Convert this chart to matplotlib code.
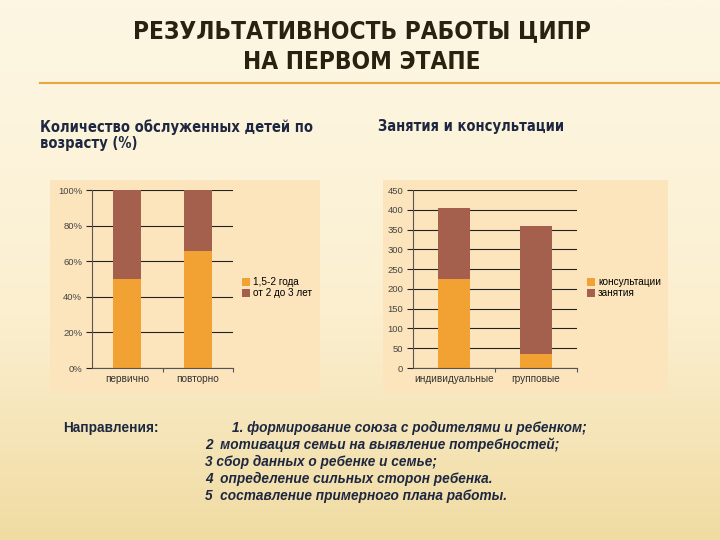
import numpy as np
import matplotlib.pyplot as plt
from matplotlib.patches import Rectangle
from matplotlib.colors import LinearSegmentedColormap

# Chart 1: children served by age (%)
age_categories = ['первично', 'повторно']
age_young = [50, 66]
age_old = [50, 34]
age_labels = ['1,5-2 года', 'от 2 до 3 лет']
age_ticks = [0, 20, 40, 60, 80, 100]

# Chart 2: lessons and consultations
work_categories = ['индивидуальные', 'групповые']
work_consult = [225, 35]
work_lessons = [180, 325]
work_labels = ['консультации', 'занятия']
work_ticks = list(range(0, 451, 50))

directions = [
    '1. формирование союза с родителями и ребенком;',
    '2  мотивация семьи на выявление потребностей;',
    '3 сбор данных о ребенке и семье;',
    '4  определение сильных сторон ребенка.',
    '5  составление примерного плана работы.',
]

ORANGE = '#F1A232'
BROWN = '#A4604C'
PANEL = '#FCE5BC'
NAVY = '#1E2740'
W, H = 720, 540

fig = plt.figure(figsize=(7.2, 5.4), dpi=100)


def fx(px): return px / W


def fy(py): return 1 - py / H


# background gradient
bg = fig.add_axes([0, 0, 1, 1], zorder=-10)
cmap = LinearSegmentedColormap.from_list('bg', ['#FDF6E2', '#FBEFCF', '#F0DBA2'])
grad = np.linspace(0, 1, 256).reshape(-1, 1) ** 1.3
bg.imshow(grad, aspect='auto', cmap=cmap, extent=[0, 1, 0, 1], origin='upper')
bg.set_xlim(0, 1)
bg.set_ylim(0, 1)
bg.axis('off')

# chart panels
for x0, x1 in [(50, 320), (383, 668)]:
    fig.patches.append(Rectangle((fx(x0), fy(393)), fx(x1 - x0), (393 - 180) / H,
                                 transform=fig.transFigure, facecolor=PANEL,
                                 edgecolor='none', zorder=-5))

# title and rule
cond = dict(family='DejaVu Sans', stretch='condensed', fontweight='bold')
fig.text(fx(362), fy(31), 'РЕЗУЛЬТАТИВНОСТЬ РАБОТЫ ЦИПР', ha='center', va='center',
         fontsize=17.5, color='#2B2110', **cond)
fig.text(fx(362), fy(62), 'НА ПЕРВОМ ЭТАПЕ', ha='center', va='center',
         fontsize=17.5, color='#2B2110', **cond)
fig.add_artist(plt.Line2D([fx(40), 1], [fy(83), fy(83)], color='#E6A83C', lw=1.5,
                          transform=fig.transFigure))

fig.text(fx(40), fy(127), 'Количество обслуженных детей по', ha='left', va='center',
         fontsize=10.5, color=NAVY, **cond)
fig.text(fx(40), fy(144), 'возрасту (%)', ha='left', va='center',
         fontsize=10.5, color=NAVY, **cond)
fig.text(fx(378), fy(127), 'Занятия и консультации', ha='left', va='center',
         fontsize=10.5, color=NAVY, **cond)


def style_axes(ax, ticks, ymax, ticklabels):
    ax.set_facecolor('none')
    ax.set_ylim(0, ymax)
    ax.set_xlim(-0.5, 1.5)
    ax.set_yticks(ticks)
    ax.set_yticklabels(ticklabels, fontsize=6.8, color='#444444', family='Liberation Sans')
    ax.yaxis.grid(True, color='#222222', lw=0.8)
    ax.set_axisbelow(True)
    for s in ['top', 'right']:
        ax.spines[s].set_visible(False)
    for s in ['left', 'bottom']:
        ax.spines[s].set_color('#555555')
        ax.spines[s].set_linewidth(0.8)
    ax.tick_params(axis='y', direction='out', length=4, width=0.8, color='#222222', pad=3)
    ax.set_xticks([0.5, 1.5], minor=True)
    ax.tick_params(axis='x', which='minor', direction='out', length=3, width=0.8, color='#555555')
    ax.tick_params(axis='x', which='major', length=0, pad=4)


legend_kw = dict(loc='center left', bbox_to_anchor=(1.03, 0.45), frameon=False,
                 prop={'family': 'Liberation Sans', 'size': 7.2}, handlelength=0.8,
                 handleheight=0.9, handletextpad=0.3, labelspacing=0.1, borderpad=0)

# chart 1
ax1 = fig.add_axes([fx(92), fy(368), fx(233 - 92), (368 - 190) / H])
x = np.arange(len(age_categories))
ax1.bar(x, age_young, width=0.4, color=ORANGE, label=age_labels[0])
ax1.bar(x, age_old, width=0.4, bottom=age_young, color=BROWN, label=age_labels[1])
style_axes(ax1, age_ticks, 100, [f'{t}%' for t in age_ticks])
ax1.set_xticks(x)
ax1.set_xticklabels(age_categories, fontsize=7.2, color='#333333', family='Liberation Sans')
ax1.legend(**legend_kw)

# chart 2
ax2 = fig.add_axes([fx(413), fy(368), fx(577 - 413), (368 - 190) / H])
x = np.arange(len(work_categories))
ax2.bar(x, work_consult, width=0.4, color=ORANGE, label=work_labels[0])
ax2.bar(x, work_lessons, width=0.4, bottom=work_consult, color=BROWN, label=work_labels[1])
style_axes(ax2, work_ticks, 450, [str(t) for t in work_ticks])
ax2.set_xticks(x)
ax2.set_xticklabels(work_categories, fontsize=7.2, color='#333333', family='Liberation Sans')
ax2.legend(**legend_kw)

# directions
fig.text(fx(63), fy(428), 'Направления:', ha='left', va='center', fontsize=9.8,
         fontweight='bold', color=NAVY, family='Liberation Sans')
for i, line in enumerate(directions):
    x0 = 232 if i == 0 else 205
    fig.text(fx(x0), fy(428 + 17 * i), line, ha='left', va='center', fontsize=9.8,
             fontweight='bold', style='italic', color=NAVY, family='Liberation Sans')

fig.savefig('out.png', dpi=100)
